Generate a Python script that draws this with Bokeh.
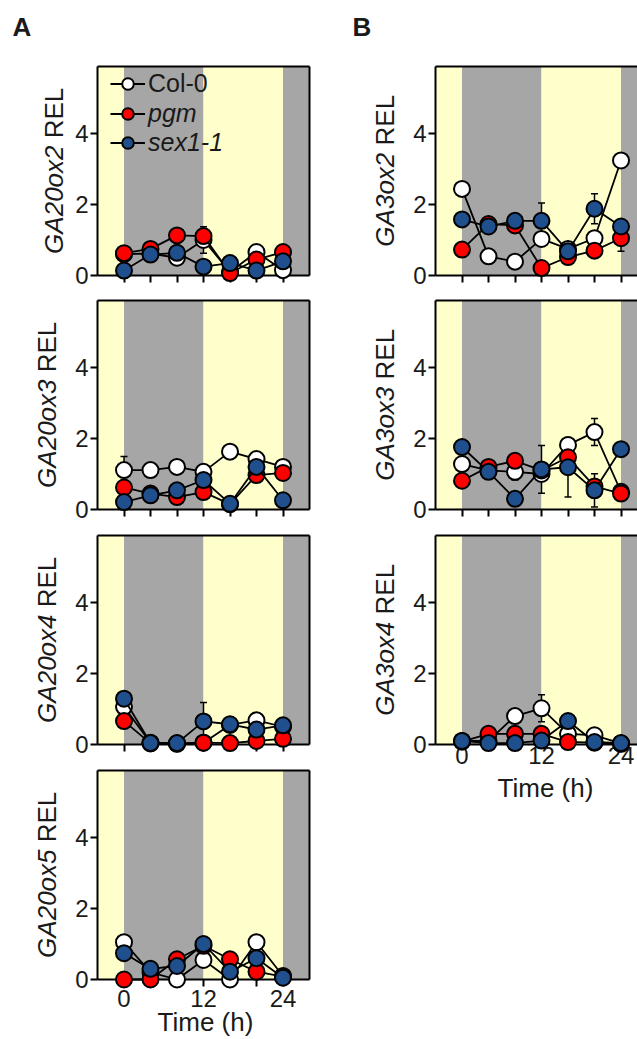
import math
from bokeh.plotting import figure
from bokeh.models import (Range1d, FixedTicker, LinearAxis, Label, Legend, LegendItem,
                          Whisker, TeeHead, ColumnDataSource)
from bokeh.layouts import row, column
from bokeh.embed import file_html
from bokeh.resources import INLINE

FONT = "Liberation Sans"
TXT = "#1a1a1a"
LIGHT = "#ffffcc"
DARK = "#a6a6a6"
SERIES_COLORS = ["#ffffff", "#ff0000", "#1f4f8c"]

# ---------------- data ----------------
time_h = [0, 4, 8, 12, 16, 20, 24]
x_ticks = [0, 4, 8, 12, 16, 20, 24]
x_tick_labels = {0: "0", 12: "12", 24: "24"}
y_ticks = [0, 2, 4]
band_left = [-4, 0, 12, 24]
band_right = [0, 12, 24, 28]
band_kind = ["light", "dark", "light", "dark"]
series_names = ["Col-0", "pgm", "sex1-1"]
x_label = "Time (h)"

ga20ox2_col0 = [0.60, 0.62, 0.50, 1.00, 0.10, 0.66, 0.15]
ga20ox2_pgm = [0.63, 0.75, 1.13, 1.11, 0.07, 0.45, 0.66]
ga20ox2_sex1 = [0.14, 0.59, 0.64, 0.25, 0.35, 0.14, 0.40]
ga20ox2_col0_err = [0, 0, 0, 0.37, 0, 0, 0]

ga20ox3_col0 = [1.11, 1.11, 1.20, 1.06, 1.63, 1.42, 1.20]
ga20ox3_pgm = [0.62, 0.45, 0.35, 0.49, 0.15, 0.97, 1.03]
ga20ox3_sex1 = [0.21, 0.40, 0.54, 0.83, 0.16, 1.20, 0.26]
ga20ox3_col0_err = [0.38, 0, 0, 0, 0, 0, 0]

ga20ox4_col0 = [1.06, 0.05, 0.03, 0.05, 0.55, 0.68, 0.50]
ga20ox4_pgm = [0.66, 0.03, 0.02, 0.05, 0.04, 0.10, 0.16]
ga20ox4_sex1 = [1.29, 0.04, 0.04, 0.65, 0.57, 0.42, 0.54]
ga20ox4_sex1_err = [0, 0, 0, 0.53, 0, 0, 0]

ga20ox5_col0 = [1.05, 0.20, 0.00, 0.55, 0.00, 1.05, 0.10]
ga20ox5_pgm = [0.00, 0.00, 0.57, 0.95, 0.57, 0.22, 0.08]
ga20ox5_sex1 = [0.74, 0.30, 0.38, 1.00, 0.22, 0.60, 0.05]

ga3ox2_col0 = [2.44, 0.54, 0.39, 1.03, 0.75, 1.05, 3.24]
ga3ox2_pgm = [0.73, 1.45, 1.41, 0.21, 0.52, 0.70, 1.05]
ga3ox2_sex1 = [1.58, 1.38, 1.54, 1.54, 0.68, 1.88, 1.38]
ga3ox2_pgm_err = [0, 0, 0, 0, 0, 0, 0.37]
ga3ox2_sex1_err = [0, 0, 0, 0.50, 0, 0.42, 0]

ga3ox3_col0 = [1.28, 1.10, 1.06, 1.00, 1.82, 2.18, 0.50]
ga3ox3_pgm = [0.81, 1.20, 1.37, 1.10, 1.47, 0.65, 0.45]
ga3ox3_sex1 = [1.76, 1.06, 0.30, 1.13, 1.19, 0.54, 1.70]
ga3ox3_col0_err = [0, 0, 0.23, 0, 0, 0.38, 0]
ga3ox3_sex1_err = [0, 0, 0, 0.67, 0.84, 0.47, 0]

ga3ox4_col0 = [0.10, 0.10, 0.80, 1.02, 0.30, 0.26, 0.03]
ga3ox4_pgm = [0.08, 0.30, 0.30, 0.30, 0.07, 0.05, 0.02]
ga3ox4_sex1 = [0.10, 0.04, 0.04, 0.11, 0.66, 0.07, 0.04]
ga3ox4_col0_err = [0, 0, 0, 0.38, 0, 0, 0]

# ---------------- geometry (pixels) ----------------
Y_TOP = 5.9
X_LEFT, X_RIGHT = -4, 28
PX_Y = 35.5          # pixels per y unit
PX_X = 212 / 32.0    # pixels per hour
COL_A_W, COL_B_W = 346, 291
AXIS_LEFT_A, AXIS_LEFT_B = 97, 89   # frame-left position inside each column figure
BASE_FIX = 13        # empirical correction of the alphabetic baseline of Label text

ARIAL_W = {"G": 778, "A": 667, "o": 556, "x": 500, " ": 278, "R": 722, "E": 667, "L": 556}


def text_width(s, fs):
    return sum(ARIAL_W.get(c, 556) for c in s) * fs / 1000.0


def style_axis(ax, tick_out, standoff, font_size="24px"):
    ax.minor_tick_line_color = None
    ax.major_tick_out = tick_out
    ax.major_tick_in = 0
    ax.axis_line_width = 2
    ax.major_tick_line_width = 2
    ax.axis_line_color = "black"
    ax.major_tick_line_color = "black"
    ax.major_label_text_font = FONT
    ax.major_label_text_font_size = font_size
    ax.major_label_text_color = TXT
    ax.major_label_standoff = standoff


def bare_axis(**kw):
    return LinearAxis(ticker=FixedTicker(ticks=[]), major_tick_out=0, major_tick_in=0,
                      minor_tick_out=0, minor_tick_in=0, major_label_standoff=0,
                      major_label_text_font_size="0px", axis_line_width=2,
                      axis_line_color="black", **kw)


def make_panel(gene, series, errs, is_b, height, y0_from_top, label_px,
               show_xlabels=False, tick_out_x=7, xlabel_standoff=4, letter=None,
               legend=False, time_center=None, time_base_px=None):
    width = COL_B_W if is_b else COL_A_W
    left_px = AXIS_LEFT_B if is_b else AXIS_LEFT_A
    x_start = X_LEFT - left_px / PX_X
    x_end = x_start + width / PX_X
    y_end = y0_from_top / PX_Y
    y_start = -(height - y0_from_top) / PX_Y

    p = figure(width=width, height=height,
               x_range=Range1d(x_start, x_end), y_range=Range1d(y_start, y_end),
               output_backend="svg", toolbar_location=None, tools="",
               min_border_left=0, min_border_right=0, min_border_top=0, min_border_bottom=0,
               outline_line_color=None, background_fill_color="white",
               border_fill_color="white")
    p.xgrid.visible = False
    p.ygrid.visible = False

    colors = [LIGHT if k == "light" else DARK for k in band_kind]
    p.quad(left=band_left, right=band_right, bottom=0, top=Y_TOP,
           fill_color=colors, line_color=None, level="image")

    xa = p.xaxis[0]
    xa.fixed_location = 0
    xa.bounds = (X_LEFT, X_RIGHT)
    xa.ticker = FixedTicker(ticks=x_ticks)
    style_axis(xa, tick_out_x, xlabel_standoff)
    if show_xlabels:
        xa.major_label_overrides = {t: x_tick_labels.get(t, "") for t in x_ticks}
    else:
        xa.major_label_overrides = {t: "" for t in x_ticks}

    ya = p.yaxis[0]
    ya.fixed_location = X_LEFT
    ya.bounds = (0, Y_TOP)
    ya.ticker = FixedTicker(ticks=y_ticks)
    style_axis(ya, 7, 2)

    p.add_layout(bare_axis(fixed_location=Y_TOP, bounds=(X_LEFT, X_RIGHT)), "above")
    if not is_b:
        p.add_layout(bare_axis(fixed_location=X_RIGHT, bounds=(0, Y_TOP)), "right")

    for vals, ev in zip(series, errs):
        if ev is None:
            continue
        xs = [t for t, e in zip(time_h, ev) if e]
        ms = [v for v, e in zip(vals, ev) if e]
        es = [e for e in ev if e]
        src = ColumnDataSource(dict(x=xs, upper=[m + e for m, e in zip(ms, es)],
                                    lower=[m - e for m, e in zip(ms, es)]))
        p.add_layout(Whisker(source=src, base="x", upper="upper", lower="lower",
                             line_color="black", line_width=1.5,
                             upper_head=TeeHead(size=7, line_width=1.5, line_color="black"),
                             lower_head=TeeHead(size=7, line_width=1.5, line_color="black")))

    rends = []
    for vals, c in zip(series, SERIES_COLORS):
        ln = p.line(time_h, vals, line_color="black", line_width=1.8, level="overlay")
        sc = p.scatter(time_h, vals, size=16, fill_color=c, line_color="black",
                       line_width=2, level="overlay")
        rends.append((ln, sc))

    if legend:
        common = dict(glyph_width=35, glyph_height=29, label_height=29, label_standoff=3,
                      padding=0, margin=0, spacing=0, border_line_color=None,
                      background_fill_alpha=0, label_text_font=FONT,
                      label_text_font_size="25px", label_text_color=TXT)
        bottom_px = height
        leg1 = Legend(items=[LegendItem(label=series_names[0], renderers=list(rends[0]))],
                      location=(110, bottom_px - 83 - 14.5), **common)
        leg2 = Legend(items=[LegendItem(label=series_names[1], renderers=list(rends[1])),
                             LegendItem(label=series_names[2], renderers=list(rends[2]))],
                      location=(110, bottom_px - 142 - 14.5),
                      label_text_font_style="italic", **common)
        p.add_layout(leg1)
        p.add_layout(leg2)

    # y-axis label: italic gene name + upright "REL"
    fs = 26
    w1 = text_width(gene, fs)
    wsp = text_width(" ", fs)
    w2 = text_width("REL", fs)
    total = w1 + wsp + w2
    center_px = (Y_TOP / 2.0) * PX_Y
    junction_px = center_px - total / 2.0 + w1
    lx = X_LEFT + (label_px - BASE_FIX) / PX_X
    p.add_layout(Label(x=lx, y=junction_px / PX_Y, text=gene, angle=math.pi / 2,
                       text_align="right", text_baseline="alphabetic",
                       text_font=FONT, text_font_size=f"{fs}px", text_font_style="italic",
                       text_color=TXT))
    p.add_layout(Label(x=lx, y=(junction_px + wsp) / PX_Y, text="REL", angle=math.pi / 2,
                       text_align="left", text_baseline="alphabetic",
                       text_font=FONT, text_font_size=f"{fs}px", text_font_style="normal",
                       text_color=TXT))

    if letter is not None:
        p.add_layout(Label(x=X_LEFT - (85 if not is_b else 83) / PX_X,
                           y=(236 + BASE_FIX) / PX_Y,
                           text=letter, text_align="left", text_baseline="alphabetic",
                           text_font=FONT, text_font_size="26px", text_font_style="bold",
                           text_color=TXT))

    if time_center is not None:
        p.add_layout(Label(x=time_center, y=-(time_base_px - BASE_FIX) / PX_Y, text=x_label,
                           text_align="center", text_baseline="alphabetic",
                           text_font=FONT, text_font_size="26px", text_color=TXT))
    return p


a1 = make_panel("GA20ox2", [ga20ox2_col0, ga20ox2_pgm, ga20ox2_sex1],
                [ga20ox2_col0_err, None, None], False, 292, 275, -31,
                letter="A", legend=True)
a2 = make_panel("GA20ox3", [ga20ox3_col0, ga20ox3_pgm, ga20ox3_sex1],
                [ga20ox3_col0_err, None, None], False, 234, 217, -38)
a3 = make_panel("GA20ox4", [ga20ox4_col0, ga20ox4_pgm, ga20ox4_sex1],
                [None, None, ga20ox4_sex1_err], False, 235, 218, -38)
a4 = make_panel("GA20ox5", [ga20ox5_col0, ga20ox5_pgm, ga20ox5_sex1],
                [None, None, None], False, 278, 218, -38, show_xlabels=True,
                tick_out_x=7, xlabel_standoff=3, time_center=12.3, time_base_px=55.5)

b1 = make_panel("GA3ox2", [ga3ox2_col0, ga3ox2_pgm, ga3ox2_sex1],
                [None, ga3ox2_pgm_err, ga3ox2_sex1_err], True, 292, 275, -38, letter="B")
b2 = make_panel("GA3ox3", [ga3ox3_col0, ga3ox3_pgm, ga3ox3_sex1],
                [ga3ox3_col0_err, None, ga3ox3_sex1_err], True, 234, 217, -38)
b3 = make_panel("GA3ox4", [ga3ox4_col0, ga3ox4_pgm, ga3ox4_sex1],
                [ga3ox4_col0_err, None, None], True, 300, 218, -38, show_xlabels=True,
                tick_out_x=0, xlabel_standoff=2, time_center=12.6, time_base_px=56)

layout = row(column(a1, a2, a3, a4), column(b1, b2, b3))
open("out.html", "w").write(file_html(layout, INLINE))
